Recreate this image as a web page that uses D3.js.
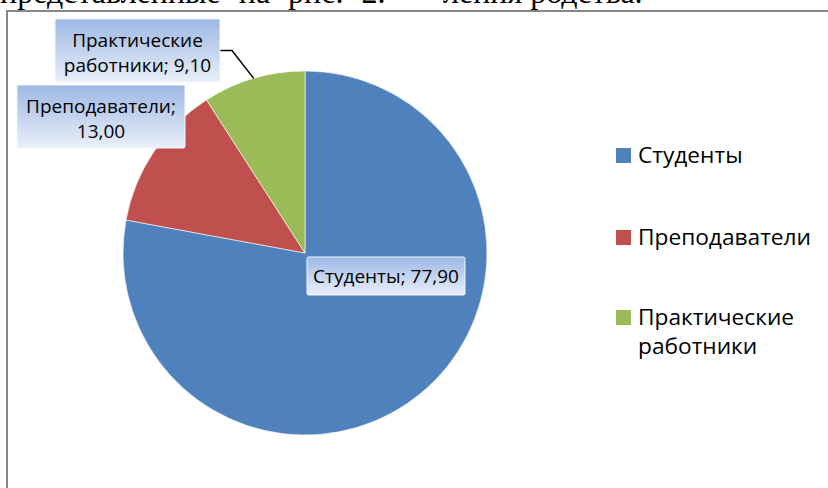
<!DOCTYPE html>
<html>
<head>
<meta charset="utf-8">
<script src="https://cdn.jsdelivr.net/npm/d3@7"></script>
<style>
    body { margin: 0; background: #fff; }
    svg { display: block; }
    .page-text { font-family: "Liberation Serif", "Times New Roman", serif; font-size: 32px; fill: #000; }
    .label-text { font-family: "Open Sans", sans-serif; font-size: 19px; fill: #000; }
    .legend-text { font-family: "Open Sans", sans-serif; font-size: 22.7px; fill: #000; }
</style>
</head>
<body>
<svg id="chart-svg" width="828" height="488"></svg>
<script>
// data
const categories = ["Студенты", "Преподаватели", "Практические работники"];
const values = [77.90, 13.00, 9.10];
const colors = ["#4f81bd", "#c0504d", "#9bbb59"];
// data label lines (category ; value)
const labelLines = [
    ["Студенты; 77,90"],
    ["Преподаватели;", "13,00"],
    ["Практические", "работники; 9,10"]
];
const legendLines = [["Студенты"], ["Преподаватели"], ["Практические", "работники"]];

class PieChart {
    constructor() {
        this.svg = d3.select("#chart-svg");
        this.cx = 305;
        this.cy = 253;
        this.radius = 182;

        this.pie = d3.pie().sort(null).value(d => d)(values);
        this.arc = d3.arc().innerRadius(0).outerRadius(this.radius);

        this.drawPage();
        this.drawPie();
        this.drawLabels();
        this.drawLegend();
    }

    drawPage() {
        // piece of the document text above the chart, cut off
        this.svg.append("text").attr("class", "page-text")
            .attr("x", 0).attr("y", 3)
            .style("word-spacing", "10px")
            .text("представленные на рис. 2.");
        this.svg.append("text").attr("class", "page-text")
            .attr("x", 443).attr("y", 3)
            .text("ления родства.");
        // chart frame
        this.svg.append("rect")
            .attr("x", 7).attr("y", 11)
            .attr("width", 900).attr("height", 600)
            .attr("fill", "none")
            .attr("stroke", "#868686")
            .attr("stroke-width", 2);

        let grad = this.svg.append("defs").append("linearGradient")
            .attr("id", "labelGrad")
            .attr("x1", 0).attr("y1", 0).attr("x2", 0).attr("y2", 1);
        grad.append("stop").attr("offset", "0%").attr("stop-color", "#9db8e4");
        grad.append("stop").attr("offset", "100%").attr("stop-color", "#e9eff9");
    }

    drawPie() {
        let g = this.svg.append("g")
            .attr("transform", `translate(${this.cx},${this.cy})`);
        g.selectAll(".slice").data(this.pie)
            .join("path")
            .attr("class", "slice")
            .attr("d", this.arc)
            .attr("fill", (d, i) => colors[i])
            .attr("stroke", "#ffffff")
            .attr("stroke-width", 0.6);
    }

    drawLabels() {
        // box centers and sizes (layout of the data labels)
        let boxes = [
            { x: 386, y: 276, w: 158, h: 38 },
            { x: 101, y: 116.5, w: 168, h: 63 },
            { x: 137.5, y: 50.5, w: 165, h: 63 }
        ];

        // leader line for the small green slice
        let green = this.pie[2];
        let mid = (green.startAngle + green.endAngle) / 2;
        let ex = this.cx + this.radius * Math.sin(mid);
        let ey = this.cy - this.radius * Math.cos(mid);
        let b = boxes[2];
        this.svg.append("polyline")
            .attr("points", `${b.x + b.w / 2},${b.y} ${b.x + b.w / 2 + 12},${b.y} ${ex},${ey}`)
            .attr("fill", "none")
            .attr("stroke", "#000")
            .attr("stroke-width", 1.5);

        let lg = this.svg.selectAll(".data-label").data(boxes)
            .join("g")
            .attr("class", "data-label")
            .attr("transform", d => `translate(${d.x},${d.y})`);
        lg.append("rect")
            .attr("x", d => -d.w / 2).attr("y", d => -d.h / 2)
            .attr("width", d => d.w).attr("height", d => d.h)
            .attr("rx", 1.5)
            .attr("fill", "url(#labelGrad)")
            .attr("stroke", "#f4f7fc")
            .attr("stroke-width", 1);
        lg.each(function(d, i) {
            let lines = labelLines[i];
            d3.select(this).selectAll("text").data(lines)
                .join("text")
                .attr("class", "label-text")
                .attr("text-anchor", "middle")
                .attr("x", 0)
                .attr("y", (t, j) => (j - (lines.length - 1) / 2) * 24.5 + (lines.length > 1 ? 9 : 7))
                .text(t => t);
        });
    }

    drawLegend() {
        let rowY = [163, 245, 325];
        let items = this.svg.selectAll(".legend").data(categories)
            .join("g")
            .attr("class", "legend")
            .attr("transform", (d, i) => `translate(616,${rowY[i]})`);
        items.append("rect")
            .attr("x", 0).attr("y", -15)
            .attr("width", 15).attr("height", 15)
            .attr("fill", (d, i) => colors[i]);
        items.each(function(d, i) {
            d3.select(this).selectAll("text").data(legendLines[i])
                .join("text")
                .attr("class", "legend-text")
                .attr("x", 22)
                .attr("y", (t, j) => j * 29)
                .text(t => t);
        });
    }
}

new PieChart();
</script>
</body>
</html>
